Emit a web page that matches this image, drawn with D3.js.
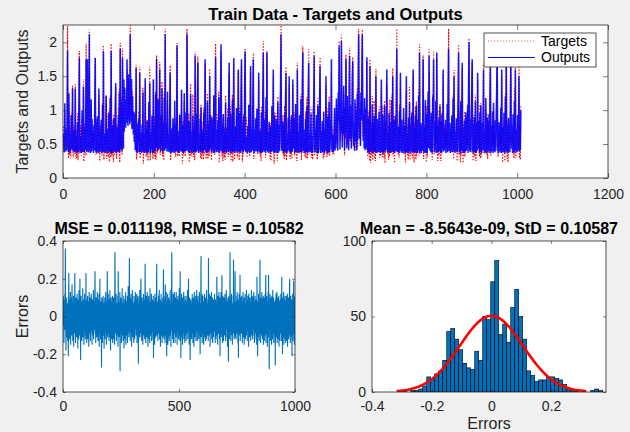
<!DOCTYPE html>
<html><head><meta charset="utf-8">
<script src="https://cdn.jsdelivr.net/npm/d3@7"></script>
<style>
body{margin:0;background:#f0f0f0}
svg{display:block}
text{font-family:"Liberation Sans",Arial,Helvetica,sans-serif}
</style></head>
<body><svg id="c" width="630" height="432"></svg>
<script>
// Network outputs (train data), one per sample
const outputs=[
0.65,0.42,0.38,1.10,0.45,0.39,0.72,0.41,0.82,1.88,0.53,0.38,1.25,0.44,0.37,0.66,0.40,0.93,0.43,0.56,1.32,0.39,0.51,0.71,
0.44,0.38,1.32,0.40,0.62,0.37,0.45,0.82,0.41,0.38,1.12,1.77,0.46,0.39,0.61,0.37,0.43,1.00,0.38,0.47,1.35,0.40,0.38,0.74,
0.42,0.92,1.75,0.39,0.45,1.75,0.41,0.38,0.72,2.12,0.50,0.37,0.41,1.16,0.39,0.87,0.43,0.62,0.37,0.78,0.40,1.16,1.77,0.44,
0.38,0.41,0.80,0.91,0.39,0.37,1.32,0.43,0.38,0.70,0.40,0.86,0.37,0.44,1.08,0.39,1.87,0.42,0.38,0.66,0.37,0.57,1.21,0.40,
0.39,0.37,0.72,0.41,0.95,0.38,0.43,1.18,0.37,1.87,0.45,0.39,0.37,0.78,0.40,0.88,0.38,0.42,1.02,1.40,0.37,0.41,0.74,0.39,
0.45,0.92,0.40,1.25,0.38,1.90,0.42,0.76,1.12,0.39,1.77,1.06,0.43,1.45,0.68,1.33,0.87,0.74,1.15,0.81,1.75,1.02,0.77,1.53,
0.85,1.28,0.79,2.12,1.14,0.83,1.46,0.72,1.21,0.88,0.64,0.98,0.53,0.95,0.41,0.47,1.62,0.39,0.58,0.37,0.79,0.81,0.88,0.38,
1.55,0.43,0.38,0.67,0.37,0.79,0.40,1.26,0.38,0.63,0.42,0.37,1.47,0.41,0.39,0.72,0.37,0.84,0.40,0.38,1.12,0.43,1.40,0.37,
0.39,0.68,0.42,0.92,0.37,0.41,1.45,0.38,0.40,0.76,0.39,1.24,0.45,1.75,0.67,0.41,1.16,0.52,0.43,0.78,1.60,0.48,0.39,0.93,
0.47,1.32,0.44,0.38,0.79,0.41,1.18,0.40,2.12,0.56,0.43,0.81,0.39,1.27,0.48,0.39,0.65,0.38,1.06,1.55,0.42,0.37,0.73,0.39,
0.40,0.88,0.38,0.62,0.37,1.14,0.47,0.39,0.79,0.41,1.95,0.46,0.38,0.69,0.37,0.42,0.93,0.39,0.64,0.40,1.30,0.43,0.38,0.78,
0.37,0.41,1.25,0.48,0.39,0.63,0.97,0.40,2.12,1.15,0.46,0.39,0.84,0.37,0.64,0.42,1.23,0.38,0.41,0.68,0.37,0.92,0.40,0.38,
0.73,0.39,1.80,0.41,0.38,0.94,0.40,1.26,1.70,0.43,0.37,0.66,0.40,0.87,0.38,1.04,0.41,0.72,0.37,0.61,0.39,0.96,0.42,0.68,
1.75,0.44,0.38,0.69,0.37,1.13,0.42,0.39,0.78,0.40,1.50,0.44,0.93,0.63,0.38,0.88,0.41,0.71,0.37,1.22,0.40,0.38,1.08,1.78,
0.52,0.38,0.71,0.39,0.85,0.41,1.19,0.37,0.67,0.40,1.37,1.97,0.52,0.39,0.79,0.37,0.94,0.40,0.38,0.68,0.41,1.11,0.39,0.37,
0.74,0.40,0.89,0.38,1.26,1.70,0.42,0.39,0.95,0.37,0.68,0.40,1.15,0.38,0.71,1.77,0.43,0.37,0.49,0.76,0.39,1.03,0.41,0.38,
0.81,1.60,0.43,0.38,0.96,0.72,0.37,1.21,1.75,0.47,0.39,0.74,0.38,0.92,0.41,1.33,1.86,0.45,0.38,0.61,0.40,0.37,0.77,0.39,
1.08,0.40,0.37,0.85,1.65,0.42,0.38,0.73,0.41,1.14,1.75,0.44,0.37,0.71,0.39,0.88,0.40,0.62,1.02,0.38,0.41,0.79,1.55,0.43,
0.38,0.40,0.69,0.37,0.97,0.41,0.38,1.27,1.85,0.44,0.39,0.71,0.86,0.37,1.19,0.40,1.85,0.49,0.38,0.68,0.37,0.83,0.41,0.39,
0.75,0.38,0.44,1.06,0.39,0.71,1.60,0.40,0.37,0.92,0.38,0.43,0.61,0.87,0.39,0.37,1.12,0.41,0.38,0.79,0.40,0.96,1.31,2.12,
0.54,0.40,0.65,0.83,0.37,0.72,0.39,0.94,0.38,1.18,1.55,0.41,0.37,0.65,0.39,0.89,0.42,1.50,0.40,0.38,0.70,0.37,0.91,0.41,
0.39,1.45,0.43,0.78,0.88,0.37,0.42,1.09,0.38,0.75,0.40,1.60,0.42,0.38,0.68,0.37,0.93,0.41,0.39,1.16,0.40,0.38,1.38,1.85,
0.47,0.40,0.71,0.39,0.37,0.87,0.38,0.69,1.05,0.40,0.37,1.28,1.70,0.43,0.38,0.66,0.40,0.95,0.37,0.62,0.41,0.38,0.89,1.13,
1.80,0.46,0.38,0.72,0.40,0.93,0.37,0.41,1.07,0.38,0.39,0.81,1.19,1.65,0.43,0.37,0.69,0.40,0.84,0.38,0.41,0.97,0.39,0.37,
0.73,0.40,1.50,0.42,0.38,0.91,0.37,0.40,0.76,1.12,0.38,0.47,0.69,0.85,1.75,0.43,0.39,0.64,0.38,0.46,0.69,1.03,0.40,0.82,
0.44,1.17,0.56,0.93,0.40,1.26,0.84,1.95,1.08,0.42,0.97,0.66,2.02,1.14,0.45,0.95,0.63,1.36,0.88,0.41,1.02,0.68,1.75,0.91,
0.44,1.21,0.49,0.96,0.41,1.33,1.80,0.58,0.73,1.07,0.43,0.89,1.48,1.72,0.64,0.47,0.82,0.40,1.16,0.77,0.53,0.99,0.42,1.24,
0.56,1.45,2.12,1.13,0.58,0.94,0.47,1.26,0.85,1.57,2.12,1.06,0.55,0.92,0.44,1.18,0.41,0.69,1.02,0.43,1.78,0.45,0.38,0.87,
0.39,0.91,0.37,1.65,0.43,0.38,0.74,0.40,1.08,0.37,0.79,0.41,0.92,0.38,0.71,0.39,1.50,0.41,0.37,0.87,0.40,0.38,0.69,0.98,
0.40,0.73,0.37,0.84,1.45,0.41,0.38,0.93,0.37,0.67,0.40,1.06,0.38,0.78,0.42,0.89,1.60,0.40,0.37,0.66,0.39,0.95,0.38,0.82,
0.44,0.37,0.76,1.14,0.39,1.50,0.42,0.38,0.85,0.37,0.67,0.92,0.39,1.27,1.90,0.43,0.38,0.47,0.75,0.37,0.98,0.40,1.55,0.41,
0.38,0.86,0.37,0.69,0.40,1.03,0.38,0.39,0.77,0.37,0.93,1.50,0.41,0.38,0.66,0.37,0.88,0.40,1.12,0.39,0.38,0.79,0.41,0.95,
0.38,0.40,1.60,0.43,0.37,0.74,0.39,0.92,0.38,1.07,0.40,0.37,0.86,0.41,1.21,0.38,1.85,0.47,0.39,0.81,0.37,0.69,0.40,0.88,
1.75,0.41,0.38,0.78,0.37,1.15,0.40,0.39,0.94,0.37,0.73,1.28,0.44,1.80,1.04,0.40,0.79,0.38,0.96,0.41,0.37,1.19,0.88,1.75,
0.47,0.38,0.83,0.40,1.14,0.37,1.85,0.43,0.39,0.77,0.38,0.89,0.41,1.06,0.40,0.37,0.84,0.38,0.96,0.43,1.60,0.39,0.68,0.71,
0.41,0.86,0.37,0.74,0.39,1.09,0.38,1.32,1.90,0.48,0.40,0.81,0.37,0.73,0.39,0.92,0.38,0.67,1.17,0.40,1.50,0.43,0.37,0.69,
0.39,0.88,0.41,0.38,0.79,1.24,1.85,0.44,0.38,0.76,0.37,1.12,0.40,0.83,1.70,0.41,0.38,0.72,0.37,0.85,0.42,0.39,0.97,0.40,
0.88,0.41,1.08,0.37,1.42,2.00,0.53,0.39,0.87,0.38,0.95,1.26,1.75,0.42,0.37,0.79,0.40,0.88,0.38,1.13,0.39,0.37,0.82,0.40,
1.55,0.43,0.84,0.74,0.37,0.96,0.40,1.07,0.39,0.37,0.81,0.41,0.93,1.60,0.47,0.38,0.72,0.37,1.18,0.40,0.38,0.89,0.41,0.75,
0.39,0.94,0.37,1.22,1.70,0.46,0.38,0.77,0.40,0.98,0.37,1.11,0.39,0.73,0.38,0.85,0.40,0.91,1.35,1.85,0.47,0.39,0.37,0.82,
0.40,0.77,0.38,1.04,0.37,1.60,0.45,0.39,0.74,0.38,0.96,0.40,0.37,1.19,0.41,1.75,0.42,0.38,0.79,0.37,0.88,0.40,0.73,0.38,
1.08,1.72,0.69,0.43,0.76,0.37,0.94,0.40,0.38,1.13,0.41,1.60,0.44,0.39,0.72,0.38,0.93,0.40,0.81,1.50,0.39,0.77,0.41,1.00];

// Errors = targets - outputs
const errors=[
0.11,-0.05,0.08,-0.14,0.03,0.09,-0.07,0.12,-0.02,0.36,0.05,-0.09,-0.18,0.06,-0.04,0.10,-0.11,0.02,0.07,-0.13,0.04,-0.06,-0.21,0.08,
0.23,-0.03,0.06,-0.12,0.09,-0.08,0.01,0.13,-0.15,0.04,-0.06,0.10,-0.10,0.05,0.17,-0.04,0.08,-0.13,0.02,-0.07,0.11,-0.16,0.03,0.06,
-0.09,0.04,0.23,-0.06,0.08,-0.14,0.02,0.10,-0.05,0.07,-0.11,0.03,0.12,-0.08,0.05,-0.17,0.09,-0.02,0.06,-0.12,0.14,-0.04,0.01,-0.10,
0.20,-0.06,0.07,-0.23,0.04,0.11,-0.09,0.02,-0.13,0.08,0.05,-0.07,0.15,-0.11,0.03,-0.02,0.09,-0.15,0.06,-0.05,0.12,-0.08,0.01,-0.12,
0.07,-0.04,0.23,-0.10,0.05,-0.14,0.09,0.02,-0.07,0.11,-0.12,0.04,-0.03,0.08,-0.16,0.06,0.13,-0.09,0.01,-0.06,0.10,-0.13,0.05,0.03,
-0.08,0.12,-0.03,0.06,-0.15,0.09,0.02,-0.10,0.07,-0.05,0.14,-0.12,0.04,-0.07,0.08,-0.02,0.11,0.24,-0.09,0.05,-0.14,0.03,0.10,-0.06,
0.06,-0.11,0.04,0.13,-0.08,0.09,-0.13,0.02,0.07,-0.05,0.12,-0.16,0.03,-0.04,0.20,-0.09,0.05,-0.12,0.08,0.01,-0.07,-0.27,0.10,-0.03,
0.09,-0.14,0.05,-0.06,0.11,-0.10,0.03,0.07,-0.17,0.04,-0.02,0.10,-0.12,0.06,-0.08,0.13,-0.04,0.02,-0.15,0.08,-0.06,0.05,0.24,-0.11,
0.04,-0.09,0.12,-0.05,0.07,-0.13,0.01,0.09,-0.07,0.14,-0.11,0.03,-0.18,0.06,0.10,-0.04,0.02,-0.12,0.08,-0.06,0.11,-0.14,0.05,-0.02,
-0.07,0.10,-0.12,0.03,0.06,-0.15,0.08,0.34,0.08,-0.09,0.04,-0.05,0.12,-0.13,0.02,0.07,-0.10,0.05,-0.03,0.11,-0.16,0.24,-0.06,0.03,
0.08,-0.11,0.05,-0.04,0.13,-0.29,0.06,-0.08,0.10,-0.02,0.04,-0.14,0.09,-0.06,0.15,-0.10,0.02,0.07,-0.13,0.05,-0.03,0.11,-0.17,0.06,
-0.05,0.09,-0.12,0.04,-0.07,0.13,-0.15,0.02,0.08,-0.10,0.06,-0.03,0.11,-0.14,0.05,-0.08,0.16,-0.06,0.03,-0.11,0.07,0.31,-0.09,0.04,
0.10,-0.13,0.06,-0.04,0.12,-0.08,0.03,-0.16,0.09,-0.05,0.14,-0.11,0.02,0.07,-0.09,0.04,-0.14,0.11,-0.02,0.06,-0.12,0.08,-0.07,0.13,
-0.06,0.05,-0.10,0.09,-0.03,0.12,-0.14,0.04,0.07,-0.08,0.11,-0.05,-0.25,0.06,-0.12,0.03,0.10,-0.07,0.14,-0.11,0.02,-0.04,0.08,0.20,
-0.09,0.06,-0.13,0.03,0.10,-0.06,0.08,-0.15,0.04,-0.02,0.12,-0.10,0.05,-0.07,0.09,-0.12,0.01,0.28,-0.08,0.06,-0.14,0.11,-0.04,0.07,
-0.11,0.04,0.13,-0.07,0.02,-0.16,0.09,-0.05,0.11,-0.12,0.06,-0.03,0.08,-0.14,0.15,-0.06,0.03,-0.10,0.07,-0.02,0.12,-0.13,0.05,-0.08,
0.09,-0.04,0.06,-0.12,0.11,-0.22,0.03,0.08,-0.09,0.05,-0.15,0.12,-0.06,0.02,0.10,-0.11,0.04,-0.07,0.13,0.28,-0.10,0.06,-0.03,0.08,
-0.13,0.07,-0.05,0.11,-0.09,0.03,0.14,-0.12,0.06,-0.02,0.09,-0.16,0.04,-0.07,0.12,-0.10,0.05,0.08,-0.14,0.02,-0.06,0.10,-0.11,0.07,
0.25,-0.08,0.04,-0.12,0.09,-0.05,0.11,-0.14,0.17,-0.03,0.06,-0.10,0.13,-0.07,-0.21,0.08,0.02,-0.09,0.12,-0.15,0.05,-0.04,0.10,-0.11,
0.06,-0.13,0.09,-0.06,0.03,0.14,-0.10,0.07,-0.16,0.04,-0.02,0.11,0.34,-0.08,0.05,-0.12,0.08,-0.05,0.12,-0.14,0.02,0.09,-0.07,0.13,
-0.09,0.05,-0.14,0.10,-0.04,0.07,-0.11,0.13,-0.06,0.03,0.09,-0.15,0.06,-0.08,0.11,-0.03,0.04,-0.12,0.08,-0.10,0.15,-0.05,0.02,-0.13,
0.24,-0.07,0.05,-0.22,0.09,-0.04,0.12,-0.11,0.03,0.07,-0.15,0.10,-0.06,0.04,-0.09,0.13,-0.12,0.06,-0.02,0.08,-0.14,0.11,-0.05,0.09,
-0.10,0.04,-0.13,0.08,-0.06,0.11,-0.09,0.03,0.14,-0.12,0.05,-0.04,0.20,-0.08,0.07,-0.15,0.02,0.10,-0.07,-0.23,0.06,-0.11,0.09,-0.03,
0.07,-0.12,0.04,-0.06,0.12,-0.09,0.05,-0.14,0.10,-0.02,0.08,-0.16,0.03,0.13,-0.07,0.06,-0.11,0.09,-0.04,0.11,-0.13,0.02,-0.08,0.14,
-0.05,0.09,-0.13,0.06,-0.08,0.11,-0.03,0.04,-0.12,0.08,-0.06,0.13,-0.10,0.05,-0.20,0.07,-0.04,0.10,0.32,-0.11,0.03,-0.07,0.12,-0.14,
0.06,-0.09,0.11,-0.04,0.08,-0.15,0.03,0.07,-0.11,0.12,-0.06,0.04,0.09,-0.13,0.10,-0.02,0.05,-0.12,0.14,-0.08,0.02,-0.10,0.07,-0.05,
0.09,-0.13,0.31,-0.07,0.05,-0.10,0.12,-0.04,0.08,-0.16,0.03,0.11,-0.09,0.06,-0.03,0.13,-0.12,0.04,-0.06,0.10,-0.14,0.07,-0.02,0.09,
-0.11,0.05,0.08,-0.08,0.12,-0.05,0.03,-0.14,0.09,-0.07,0.07,-0.12,0.06,-0.03,0.21,-0.10,0.04,0.08,-0.15,0.11,-0.06,0.02,-0.09,0.13,
-0.04,0.07,-0.12,0.10,-0.21,0.05,0.09,-0.07,0.13,-0.11,0.03,-0.05,0.22,-0.09,0.06,-0.14,0.11,-0.02,0.08,-0.13,0.04,0.10,-0.06,0.07,
-0.10,0.12,-0.05,0.04,-0.13,0.09,-0.07,0.14,-0.03,0.06,-0.11,0.08,-0.16,0.05,0.10,-0.08,-0.24,0.07,-0.02,0.11,-0.12,0.04,-0.06,0.34,
-0.08,0.06,-0.13,0.09,-0.04,0.12,-0.10,0.03,0.07,-0.15,0.05,-0.06,0.11,-0.09,0.30,-0.03,0.08,-0.12,0.04,-0.07,0.10,0.24,-0.11,0.05,
0.08,-0.12,0.04,-0.05,0.11,-0.09,0.13,-0.03,0.06,-0.14,0.09,-0.22,0.07,-0.04,0.12,-0.10,0.02,-0.08,0.22,-0.13,0.05,0.10,-0.06,0.03,
-0.09,0.11,-0.06,0.04,-0.14,0.08,-0.02,0.13,-0.11,0.06,-0.07,0.10,-0.15,0.03,0.09,-0.05,0.12,-0.12,0.07,-0.03,0.05,-0.10,0.14,-0.08,
0.06,-0.13,0.09,-0.04,0.11,-0.08,0.03,-0.16,0.12,-0.06,0.07,-0.11,0.05,0.10,-0.09,0.02,-0.13,0.08,-0.05,0.14,-0.10,0.04,-0.07,0.11,
-0.12,0.05,-0.07,0.10,-0.03,0.13,-0.10,0.06,-0.14,0.08,-0.05,0.11,-0.09,0.04,0.07,-0.12,0.09,-0.02,-0.15,0.21,-0.06,0.03,-0.21,0.08,
0.04,-0.11,0.12,-0.06,0.08,-0.13,0.05,-0.03,0.30,-0.09,0.07,-0.14,0.10,-0.05,0.02,-0.10,0.13,-0.07,0.06,-0.12,0.09,-0.04,0.11,-0.15,
0.07,-0.08,0.10,-0.13,0.04,-0.05,0.12,-0.10,0.06,0.22,-0.14,0.03,-0.07,0.11,-0.09,0.05,-0.16,0.08,-0.03,0.13,-0.11,0.22,-0.06,0.04,
-0.28,0.09,-0.07,0.12,-0.04,0.06,-0.13,0.10,-0.08,0.03,-0.15,0.11,-0.05,0.07,-0.12,0.14,-0.09,0.02,-0.06,0.10,-0.14,0.05,-0.03,0.08,
-0.10,0.06,-0.26,0.09,-0.05,0.12,-0.11,0.04,-0.08,0.13,-0.14,0.07,-0.03,0.10,-0.12,0.05,-0.07,0.11,-0.16,0.08,-0.04,0.06,-0.13,0.09,
0.05,-0.09,0.12,-0.06,0.08,-0.13,0.21,-0.04,0.07,-0.20,0.10,-0.11,0.03,-0.07,0.13,-0.15,0.06,-0.02,0.09,-0.12,0.11,-0.08,0.04,-0.14,
0.08,-0.05,0.11,-0.13,0.06,-0.09,0.12,-0.16,0.03,0.09,-0.07,0.10,-0.12,0.05,-0.04,0.13,0.20,-0.10,0.07,-0.14,0.02,0.11,-0.08,0.06,
-0.11,0.09,-0.21,0.05,-0.07,0.12,-0.13,0.04,-0.09,0.19,-0.05,0.10,-0.15,0.07,-0.03,0.11,-0.12,0.06,-0.08,0.13,-0.10,0.04,-0.14,0.08];

// Error histogram (50 bins)
const histCounts=[1,0,1,1,2,4,10,9,12,14,21,40,42,35,28,19,16,15,27,21,50,48,73,87,38,45,33,56,68,50,35,14,11,7,8,8,10,10,9,8,5,2,1,1,0,0,0,1,2,1];
const histStart=-0.297, histBinWidth=0.0134;
const errMean=-8.5643e-09, errStd=0.10587;

const topXTicks=[0,200,400,600,800,1000,1200];
const topYTicks=[0,0.5,1,1.5,2];
const errXTicks=[0,500,1000];
const errYTicks=[-0.4,-0.2,0,0.2,0.4];
const histXTicks=[-0.4,-0.2,0,0.2];
const histYTicks=[0,50,100];

const titles=["Train Data - Targets and Outputs","MSE = 0.011198, RMSE = 0.10582","Mean = -8.5643e-09, StD = 0.10587"];
const legendLabels=["Targets","Outputs"];

const targets=outputs.map((o,i)=>o+errors[i]);

const svg=d3.select("#c");
const AX="#262626";
const fmt=d=>String(d);

function panel(id,box,x,y,xt,yt,tl,pad){
  const g=svg.append("g").attr("transform",`translate(${box.l},${box.t})`);
  const w=box.r-box.l,h=box.b-box.t;
  g.append("rect").attr("width",w).attr("height",h).attr("fill","#fff");
  g.append("clipPath").attr("id",id).append("rect").attr("width",w).attr("height",h);
  const plot=g.append("g").attr("clip-path",`url(#${id})`);
  const axes=g.append("g");
  const style=s=>{s.select(".domain").remove();s.selectAll("line").attr("stroke",AX).attr("stroke-width",0.6);
    s.selectAll("text").attr("fill",AX).attr("font-size",14).attr("font-family",'"Liberation Sans",Arial,sans-serif');};
  axes.append("g").attr("transform",`translate(0,${h})`).call(d3.axisBottom(x).tickValues(xt).tickFormat(fmt).tickSizeInner(-tl).tickSizeOuter(0).tickPadding(pad)).call(style);
  axes.append("g").call(d3.axisTop(x).tickValues(xt).tickFormat("").tickSizeInner(-tl).tickSizeOuter(0)).call(style);
  axes.append("g").call(d3.axisLeft(y).tickValues(yt).tickFormat(fmt).tickSizeInner(-tl).tickSizeOuter(0).tickPadding(6)).call(style);
  axes.append("g").attr("transform",`translate(${w},0)`).call(d3.axisRight(y).tickValues(yt).tickFormat("").tickSizeInner(-tl).tickSizeOuter(0)).call(style);
  axes.append("rect").attr("width",w).attr("height",h).attr("fill","none").attr("stroke",AX).attr("stroke-width",0.8);
  return {g,plot,axes,w,h};
}

// ---- Top panel
const B1={l:63,t:25,r:608,b:178};
const x1=d3.scaleLinear().domain([0,1200]).range([0,B1.r-B1.l]);
const y1=d3.scaleLinear().domain([0,2.255]).range([B1.b-B1.t,0]);
const p1=panel("c1",B1,x1,y1,topXTicks,topYTicks,5,11);
const line1=d3.line().x((d,i)=>x1(i+1)).y(d=>y1(d));
p1.plot.append("path").datum(targets).attr("d",line1).attr("fill","none").attr("stroke","#ff0000").attr("stroke-width",1.2).attr("stroke-dasharray","1.2,1.8");
p1.plot.append("path").datum(outputs).attr("d",line1).attr("fill","none").attr("stroke","#0000ff").attr("stroke-width",1.5).attr("stroke-opacity",0.9);
// legend
const lg=svg.append("g").attr("transform","translate(484,33)");
lg.append("rect").attr("width",112).attr("height",34).attr("fill","#fff").attr("stroke",AX).attr("stroke-width",0.8);
lg.append("line").attr("x1",4).attr("x2",51).attr("y1",8).attr("y2",8).attr("stroke","#ff6060").attr("stroke-dasharray","1.2,1.8");
lg.append("line").attr("x1",4).attr("x2",51).attr("y1",24.5).attr("y2",24.5).attr("stroke","#0000ff").attr("stroke-width",1.2);
lg.selectAll("text.l").data(legendLabels).join("text").attr("x",57).attr("y",(d,i)=>8+16.5*i).attr("dy","0.35em")
  .attr("font-size",14).attr("fill","#000").text(d=>d);
svg.append("text").attr("x",(B1.l+B1.r)/2).attr("y",20).attr("text-anchor","middle").attr("font-weight","bold").attr("font-size",16.5).attr("fill","#000").text(titles[0]);
svg.append("text").attr("transform",`translate(28,${(B1.t+B1.b)/2}) rotate(-90)`).attr("text-anchor","middle").attr("font-size",16).attr("fill",AX).text("Targets and Outputs");

// ---- Bottom-left: errors
const B2={l:63,t:241,r:295,b:392};
const x2=d3.scaleLinear().domain([0,1000]).range([0,B2.r-B2.l]);
const y2=d3.scaleLinear().domain([-0.4,0.4]).range([B2.b-B2.t,0]);
const p2=panel("c2",B2,x2,y2,errXTicks,errYTicks,3,9);
p2.plot.append("path").datum(errors).attr("d",d3.line().x((d,i)=>x2(i+1)).y(d=>y2(d))).attr("fill","none").attr("stroke","#0072BD").attr("stroke-width",1.1);
svg.append("text").attr("x",(B2.l+B2.r)/2).attr("y",234).attr("text-anchor","middle").attr("font-weight","bold").attr("font-size",16).attr("fill","#000").text(titles[1]);
svg.append("text").attr("transform",`translate(28,${(B2.t+B2.b)/2}) rotate(-90)`).attr("text-anchor","middle").attr("font-size",16).attr("fill",AX).text("Errors");

// ---- Bottom-right: histogram
const B3={l:372,t:241,r:606,b:392};
const x3=d3.scaleLinear().domain([-0.4,0.384]).range([0,B3.r-B3.l]);
const y3=d3.scaleLinear().domain([0,100]).range([B3.b-B3.t,0]);
const p3=panel("c3",B3,x3,y3,histXTicks,histYTicks,3,9);
p3.plot.selectAll("rect.bar").data(histCounts).join("rect").attr("class","bar")
  .attr("x",(d,i)=>x3(histStart+i*histBinWidth)).attr("width",x3(histBinWidth)-x3(0))
  .attr("y",d=>y3(d)).attr("height",d=>y3(0)-y3(d))
  .attr("fill","#0072BD").attr("stroke","#000").attr("stroke-width",0.6);
const N=d3.sum(histCounts);
const xs=d3.range(0,101).map(k=>errMean-3*errStd+k*(6*errStd/100));
const pdf=v=>N*histBinWidth/(errStd*Math.sqrt(2*Math.PI))*Math.exp(-0.5*((v-errMean)/errStd)**2);
p3.plot.append("path").datum(xs).attr("d",d3.line().x(v=>x3(v)).y(v=>y3(pdf(v)))).attr("fill","none").attr("stroke","#ff0000").attr("stroke-width",2.6);
svg.append("text").attr("x",(B3.l+B3.r)/2).attr("y",234).attr("text-anchor","middle").attr("font-weight","bold").attr("font-size",16).attr("fill","#000").text(titles[2]);
svg.append("text").attr("x",(B3.l+B3.r)/2).attr("y",429).attr("text-anchor","middle").attr("font-size",16).attr("fill",AX).text("Errors");
</script></body></html>
